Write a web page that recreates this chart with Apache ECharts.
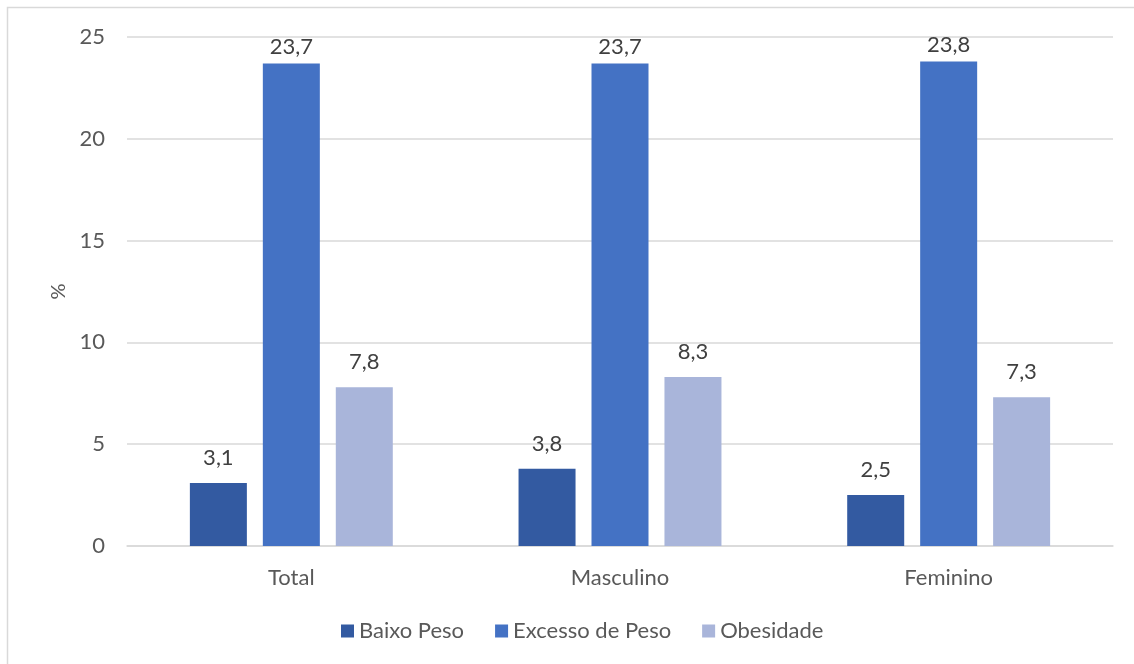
<!DOCTYPE html>
<html>
<head>
<meta charset="utf-8">
<script src="https://cdn.jsdelivr.net/npm/echarts@6/dist/echarts.min.js"></script>
<style>
html,body{margin:0;padding:0;background:#fff;}
#chart{width:1134px;height:664px;}
</style>
</head>
<body>
<div id="chart"></div>
<script>
const categories = ['Total', 'Masculino', 'Feminino'];
const baixoPeso = [3.1, 3.8, 2.5];
const excessoPeso = [23.7, 23.7, 23.8];
const obesidade = [7.8, 8.3, 7.3];
const seriesNames = ['Baixo Peso', 'Excesso de Peso', 'Obesidade'];
const colors = ['#335AA1', '#4472C4', '#A9B5DA'];

const FONT = 'Lato, "Open Sans", sans-serif';
const TXT = '#595959';
const fmt = p => String(p.value).replace('.', ',');

function mkSeries(name, data, color, dist) {
  return {
    name: name,
    type: 'bar',
    data: data,
    barWidth: 57,
    barGap: '28%',
    itemStyle: { color: color },
    label: {
      show: true, position: 'top', distance: dist,
      formatter: fmt, color: '#404040', fontSize: 22, fontFamily: FONT
    }
  };
}

const chart = echarts.init(document.getElementById('chart'));
chart.setOption({
  animation: false,
  textStyle: { fontFamily: FONT },
  graphic: [{
    type: 'rect',
    shape: { x: 7.5, y: 7.5, width: 1300, height: 800 },
    style: { fill: 'none', stroke: '#D9D9D9', lineWidth: 1.5 },
    z: -1
  }],
  grid: { left: 127, right: 21, top: 37, bottom: 118 },
  legend: {
    bottom: 17, left: 336,
    itemWidth: 13, itemHeight: 13, itemGap: 31,
    icon: 'rect',
    textStyle: { color: TXT, fontSize: 22, fontFamily: FONT },
    data: seriesNames
  },
  xAxis: {
    type: 'category',
    data: categories,
    axisLine: { lineStyle: { color: '#D9D9D9', width: 1.5 } },
    axisTick: { show: false },
    axisLabel: { color: TXT, fontSize: 22, fontFamily: FONT, margin: 21 }
  },
  yAxis: {
    type: 'value',
    min: 0, max: 25, interval: 5,
    name: '%',
    nameLocation: 'middle',
    nameGap: 56,
    nameTextStyle: { color: TXT, fontSize: 20, fontFamily: FONT },
    axisLine: { show: false },
    axisTick: { show: false },
    splitLine: { lineStyle: { color: '#D9D9D9', width: 1.5 } },
    axisLabel: { color: TXT, fontSize: 22, fontFamily: FONT, margin: 22 }
  },
  series: [
    mkSeries(seriesNames[0], baixoPeso, colors[0], 14),
    mkSeries(seriesNames[1], excessoPeso, colors[1], 6),
    mkSeries(seriesNames[2], obesidade, colors[2], 14)
  ]
});
</script>
</body>
</html>
